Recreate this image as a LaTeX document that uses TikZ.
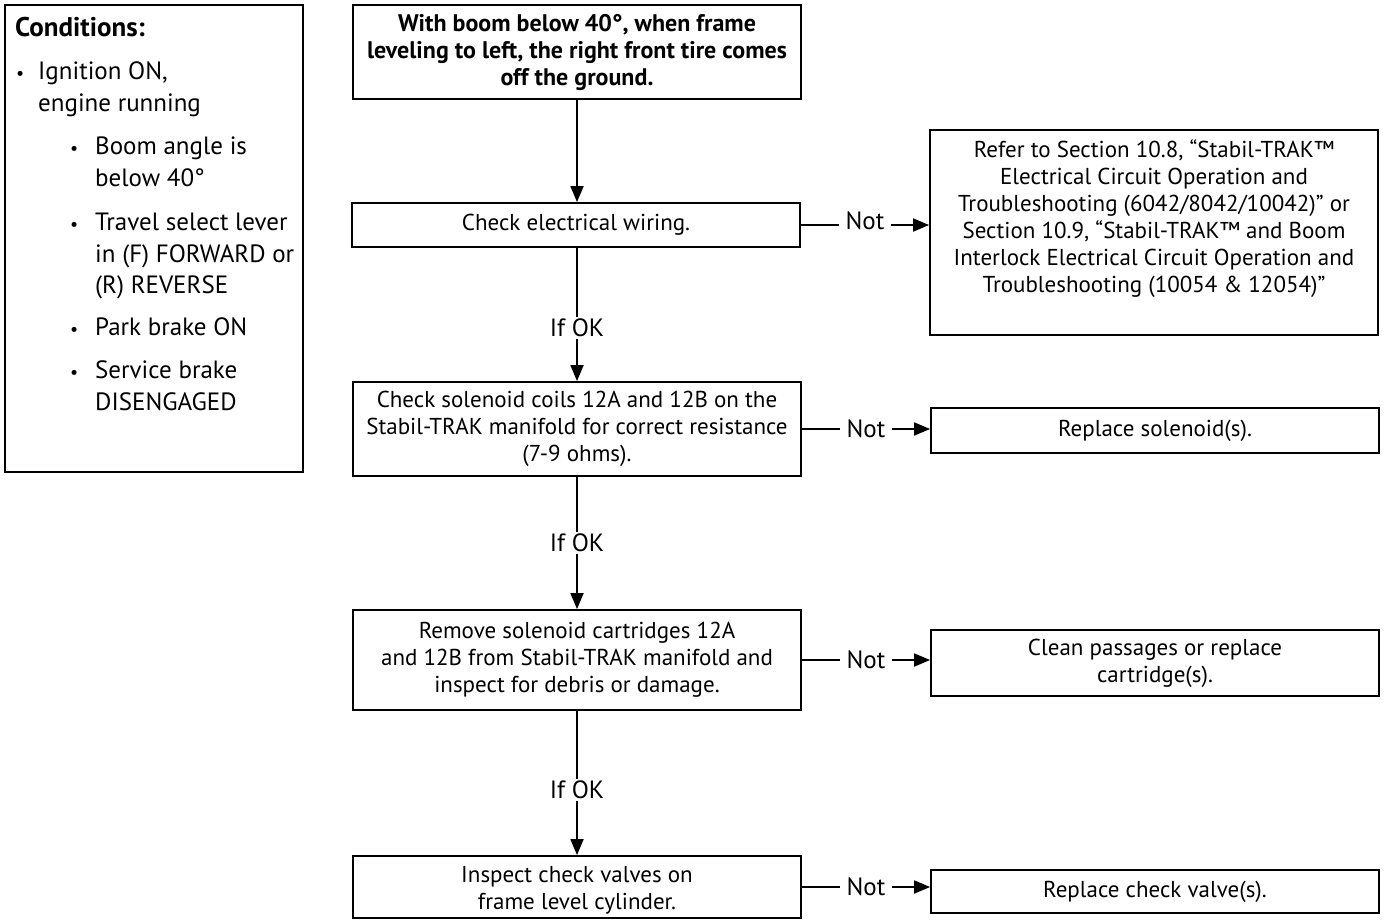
\documentclass[tikz,border=0pt]{standalone}
\usepackage{fontspec}
\setmainfont{PT Sans}
\usetikzlibrary{arrows.meta,positioning}
\tikzset{
  box/.style={draw, line width=1.8pt, minimum width=448pt, inner sep=0pt, align=center, font=\fontsize{23}{27}\selectfont},
  boldbox/.style={box, font=\fontsize{24}{27}\selectfont\bfseries},
  lbl/.style={fill=white, inner xsep=7pt, inner ysep=2pt, font=\fontsize{25}{27}\selectfont},
  conn/.style={line width=1.8pt},
  arr/.style={conn, -{Triangle[length=16pt,width=13pt]}},
  cond/.style={anchor=base west, inner sep=0pt, font=\fontsize{25}{32}\selectfont},
  bul/.style={anchor=base west, inner sep=0pt, font=\fontsize{18}{32}\selectfont},
}
\begin{document}
\begin{tikzpicture}[x=1pt,y=-1pt]
\useasboundingbox (0,0) rectangle (1388,920);
\fill[white] (0,0) rectangle (1388,920);

% Conditions box
\node[draw, line width=1.8pt, minimum width=298pt, minimum height=467pt, inner sep=0pt] (condbox) at (154,238.5) {};
\node[cond, font=\fontsize{27}{32}\selectfont\bfseries] (ctitle) at (15,37) {Conditions:};
\node[bul] (b1) at (16,80) {•};
\node[cond] (c1a) at (38,80) {Ignition ON,};
\node[cond] (c1b) at (38,112) {engine running};
\node[bul] (b2) at (70,155) {•};
\node[cond] (c2a) at (95,155) {Boom angle is};
\node[cond] (c2b) at (95,186) {below 40°};
\node[bul] (b3) at (70,230) {•};
\node[cond] (c3a) at (95,230) {Travel select lever};
\node[cond] (c3b) at (95,262) {in (F) FORWARD or};
\node[cond] (c3c) at (95,293) {(R) REVERSE};
\node[bul] (b4) at (70,335) {•};
\node[cond] (c4a) at (95,335) {Park brake ON};
\node[bul] (b5) at (70,378) {•};
\node[cond] (c5a) at (95,378) {Service brake};
\node[cond] (c5b) at (95,410) {DISENGAGED};

% Left column
\node[boldbox, minimum height=94pt] (top) at (577,52) {With boom below 40°, when frame\\leveling to left, the right front tire comes\\off the ground.};
\node[box, minimum height=44pt] (wire) at (576,225) {Check electrical wiring.};
\node[box, minimum height=94pt] (coil) at (577,429) {Check solenoid coils 12A and 12B on the\\Stabil-TRAK manifold for correct resistance\\(7-9 ohms).};
\node[box, minimum height=100pt] (cart) at (577,660) {Remove solenoid cartridges 12A\\and 12B from Stabil-TRAK manifold and\\inspect for debris or damage.};
\node[box, minimum height=62pt] (valve) at (577,887) {};
\node[inner sep=0pt, align=center, font=\fontsize{23}{27}\selectfont] (valvetext) at ([yshift=-3pt]valve.center) {Inspect check valves on\\frame level cylinder.};

% Right column
\node[box, minimum height=205pt] (ref) at (1154,232.5) {};
\node[anchor=north, inner sep=0pt, align=center, font=\fontsize{23}{27}\selectfont] (reftext) at ([yshift=-10pt]ref.north) {Refer to Section 10.8, “Stabil-TRAK™\\Electrical Circuit Operation and\\Troubleshooting (6042/8042/10042)” or\\Section 10.9, “Stabil-TRAK™ and Boom\\Interlock Electrical Circuit Operation and\\Troubleshooting (10054 \& 12054)”};
\node[box, minimum height=45pt] (sol) at (1155,430.5) {Replace solenoid(s).};
\node[box, minimum height=66pt] (clean) at (1155,663) {Clean passages or replace\\cartridge(s).};
\node[box, minimum height=43pt] (chk) at (1155,891.5) {Replace check valve(s).};

% Vertical connectors
\draw[arr] (top.south) -- (top.south |- wire.north);
\draw[arr] (wire.south -| coil.north) -- node[lbl, pos=0.6] {If OK} (coil.north);
\draw[arr] (coil.south) -- node[lbl, pos=0.5] {If OK} (cart.north);
\draw[arr] (cart.south) -- node[lbl, pos=0.55] {If OK} (valve.north);

% Horizontal connectors
\draw[arr] (wire.east) -- node[lbl, yshift=4pt] {Not} (wire.east -| ref.west);
\draw[arr] (coil.east) -- node[lbl] {Not} (coil.east -| sol.west);
\draw[arr] (cart.east) -- node[lbl] {Not} (cart.east -| clean.west);
\draw[arr] (valve.east) -- node[lbl] {Not} (valve.east -| chk.west);
\end{tikzpicture}
\end{document}
